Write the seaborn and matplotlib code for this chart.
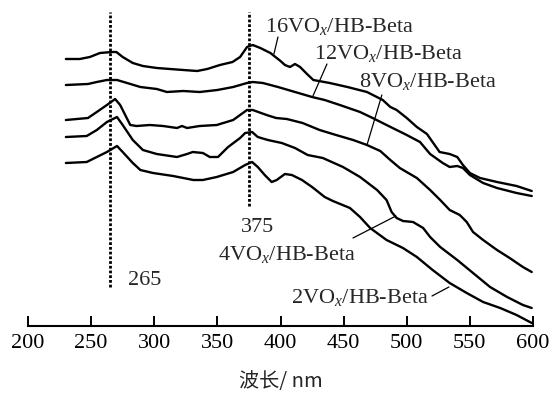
import matplotlib
matplotlib.use("Agg")
import matplotlib.pyplot as plt
import seaborn as sns
import pandas as pd

# UV-vis diffuse reflectance spectra of VOx/HB-Beta samples (stacked, arbitrary units)
wl_16 = [230, 241, 249, 257, 266.5, 270, 275, 283, 291, 302, 312.5, 323, 334, 342, 352, 362, 368,
         373.5, 378, 384, 392, 400, 403.5, 407.5, 411.5, 415.5, 421, 426, 439, 453, 468.5, 481, 487,
         492, 500, 508, 516, 521, 526, 534, 540, 544.5, 550, 558, 571.5, 587, 599]
abs_16 = [2.67, 2.67, 2.69, 2.73, 2.74, 2.74, 2.69, 2.63, 2.60, 2.58, 2.57, 2.56, 2.55, 2.57, 2.61,
          2.64, 2.69, 2.79, 2.81, 2.78, 2.73, 2.65, 2.61, 2.59, 2.62, 2.59, 2.52, 2.46, 2.43, 2.39,
          2.34, 2.26, 2.19, 2.16, 2.08, 1.99, 1.92, 1.83, 1.74, 1.72, 1.69, 1.61, 1.53, 1.48, 1.44,
          1.40, 1.35]

wl_12 = [230, 247.5, 254.5, 262.5, 270.5, 278.5, 289, 302, 310, 323, 336, 350, 362.5, 373.5, 378,
         386, 398, 411.5, 425, 435, 447, 463, 473, 484, 500, 510.5, 518.5, 528.5, 534, 540, 544.5,
         550, 560.5, 571.5, 587, 599]
abs_12 = [2.41, 2.42, 2.44, 2.46, 2.46, 2.43, 2.39, 2.37, 2.34, 2.35, 2.34, 2.36, 2.39, 2.43, 2.44,
          2.43, 2.39, 2.34, 2.29, 2.26, 2.21, 2.14, 2.08, 2.01, 1.91, 1.84, 1.72, 1.63, 1.59, 1.60,
          1.58, 1.51, 1.43, 1.38, 1.33, 1.30]

wl_8 = [230, 247.5, 254.5, 262.5, 269, 273, 277, 281, 286, 296.5, 307, 318, 322, 326, 336, 349.5,
        362.5, 373.5, 378, 389, 396.5, 405, 417.5, 431, 444, 457.5, 468.5, 479, 487, 494.5, 508,
        518.5, 526.5, 534, 542, 547.5, 552.5, 560.5, 571.5, 581.5, 592, 599]
abs_8 = [2.06, 2.08, 2.14, 2.21, 2.27, 2.21, 2.11, 2.01, 2.00, 2.01, 2.00, 1.98, 2.00, 1.98, 2.00,
         2.01, 2.06, 2.16, 2.16, 2.11, 2.08, 2.07, 2.03, 1.96, 1.91, 1.86, 1.81, 1.75, 1.66, 1.58,
         1.48, 1.36, 1.26, 1.16, 1.11, 1.04, 0.94, 0.86, 0.76, 0.68, 0.59, 0.54]

wl_4 = [230, 246.5, 254.5, 262.5, 270.5, 275, 283, 291, 302, 318, 326, 330.5, 338.5, 344, 350.5,
        358.5, 368, 372, 377.5, 382, 390, 401, 411.5, 421.5, 433.5, 449.5, 463, 476.5, 484, 488,
        492, 497, 505, 513, 518.5, 526.5, 540, 552.5, 566, 579.5, 592, 599]
abs_4 = [1.89, 1.90, 1.96, 2.04, 2.09, 2.01, 1.86, 1.76, 1.72, 1.69, 1.72, 1.74, 1.73, 1.69, 1.69,
         1.79, 1.88, 1.93, 1.94, 1.89, 1.86, 1.83, 1.78, 1.71, 1.68, 1.59, 1.49, 1.36, 1.26, 1.14,
         1.08, 1.05, 1.04, 0.98, 0.89, 0.79, 0.66, 0.53, 0.39, 0.29, 0.21, 0.18]

wl_2 = [230, 246.5, 254.5, 262.5, 270.5, 275, 283, 289, 299, 315, 331, 338.5, 349.5, 362.5, 372,
        377.5, 382, 387.5, 393, 397, 403.5, 409, 417, 425, 435, 441.5, 455, 463, 471, 484, 497,
        508, 520.5, 534, 547.5, 560.5, 574, 587, 599]
abs_2 = [1.63, 1.64, 1.69, 1.74, 1.80, 1.74, 1.63, 1.56, 1.53, 1.50, 1.46, 1.46, 1.49, 1.54, 1.61,
         1.64, 1.59, 1.51, 1.44, 1.46, 1.52, 1.51, 1.46, 1.39, 1.29, 1.25, 1.18, 1.09, 0.98, 0.86,
         0.78, 0.69, 0.56, 0.43, 0.33, 0.24, 0.18, 0.11, 0.03]

samples = ["16VOx", "12VOx", "8VOx", "4VOx", "2VOx"]
wavelengths = [wl_16, wl_12, wl_8, wl_4, wl_2]
absorbances = [abs_16, abs_12, abs_8, abs_4, abs_2]

peak_positions = [265, 375]
x_ticks = [200, 250, 300, 350, 400, 450, 500, 550, 600]

frames = []
for name, w, a in zip(samples, wavelengths, absorbances):
    frames.append(pd.DataFrame({"wavelength": w, "absorbance": a, "sample": name}))
df = pd.concat(frames, ignore_index=True)

sns.set_theme(style="white")
plt.rcParams["font.family"] = ["Liberation Serif", "Noto Sans CJK SC"]
plt.rcParams["mathtext.fontset"] = "custom"
plt.rcParams["mathtext.rm"] = "Liberation Serif"
plt.rcParams["mathtext.it"] = "Liberation Serif:italic"

W, H = 552, 393
fig = plt.figure(figsize=(W / 100, H / 100), dpi=100)
ax = fig.add_axes([28 / W, 67 / H, 505 / W, 1 - 67 / H])

sns.lineplot(data=df, x="wavelength", y="absorbance", hue="sample",
             palette=["black"] * len(samples), linewidth=1.7, legend=False,
             sort=False, estimator=None, ax=ax)

# dotted reference lines at the two absorption maxima
ax.vlines(peak_positions[0], 0.39, 3.14, colors="black", linestyles=(0, (1, 0.7)), linewidth=2.0)
ax.vlines(peak_positions[1], 1.20, 3.14, colors="black", linestyles=(0, (1, 0.7)), linewidth=2.0)

fs = 16
ax.text(279.2, 0.41, str(peak_positions[0]), fontsize=fs, ha="left", va="baseline")
ax.text(368.7, 0.94, str(peak_positions[1]), fontsize=fs, ha="left", va="baseline")

# sample labels with leader lines
labels = [
    (r"16VO$_{x}$/HB-Beta", (387.7, 2.94), (398.0, 2.89), (394.8, 2.72)),
    (r"12VO$_{x}$/HB-Beta", (426.5, 2.67), (436.8, 2.62), (425.7, 2.30)),
    (r"8VO$_{x}$/HB-Beta", (462.2, 2.39), (480.3, 2.31), (468.5, 1.81)),
    (r"4VO$_{x}$/HB-Beta", (350.5, 0.66), (457.4, 0.88), (491.4, 1.10)),
    (r"2VO$_{x}$/HB-Beta", (408.3, 0.23), (520.0, 0.30), (533.4, 0.39)),
]
for text, pos, p0, p1 in labels:
    ax.text(pos[0], pos[1], text, fontsize=fs, ha="left", va="baseline")
    ax.plot([p0[0], p1[0]], [p0[1], p1[1]], color="black", linewidth=0.9)

ax.set_xlim(200, 600)
ax.set_ylim(0, 3.26)
ax.set_xticks(x_ticks)
ax.set_xticklabels([str(t) for t in x_ticks], fontsize=fs)
ax.set_yticks([])
ax.set_xlabel("")
ax.set_ylabel("")
for side in ["left", "top", "right"]:
    ax.spines[side].set_visible(False)
ax.spines["bottom"].set_linewidth(1.5)
ax.spines["bottom"].set_color("black")
ax.tick_params(axis="x", direction="in", length=7, width=1.4, color="black", pad=6,
               bottom=True, labelcolor="black")
ax.patch.set_alpha(0)

fig.text(281 / W, 1 - 381 / H, "波长/ nm", fontsize=14.5, ha="center", va="center",
         family=["Noto Sans CJK SC", "Liberation Serif"])

fig.savefig("out.png", dpi=100)
